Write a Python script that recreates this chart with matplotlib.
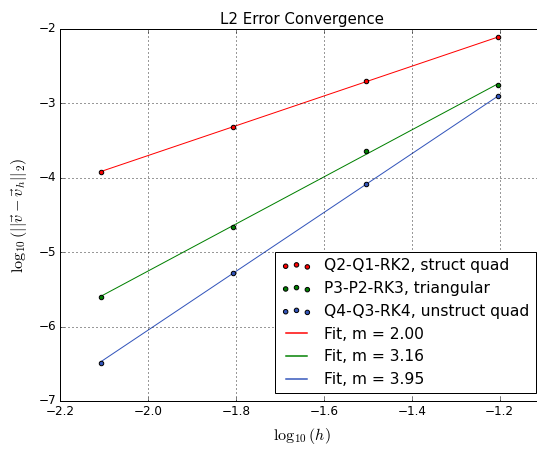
import numpy as np
import matplotlib
matplotlib.use('Agg')
import matplotlib.pyplot as plt

plt.style.use('classic')
plt.rcParams['figure.facecolor'] = 'white'
plt.rcParams['savefig.facecolor'] = 'white'

# mesh sizes h = 1/128 ... 1/16
logh = np.log10([1/128., 1/64., 1/32., 1/16.])

# log10 of the L2 error for each scheme
err_q2 = [-3.92, -3.317, -2.70, -2.11]
err_p3 = [-5.60, -4.66, -3.64, -2.757]
err_q4 = [-6.49, -5.28, -4.08, -2.896]

names = ['Q2-Q1-RK2, struct quad', 'P3-P2-RK3, triangular', 'Q4-Q3-RK4, unstruct quad']
slopes = [2.00, 3.16, 3.95]
colors = ['#ff0000', '#008000', '#3355bb']

fig = plt.figure(figsize=(537/72., 453/72.), dpi=72)
ax = fig.add_axes([0.1123, 0.1148, 0.9, 0.8212])

errs = [err_q2, err_p3, err_q4]
pts = []
for E, name, c in zip(errs, names, colors):
    p = ax.scatter(logh, E, color=c, s=20, edgecolors='k', zorder=3, label=name)
    pts.append(p)

# fitted lines through the mean point with the given rate
fits = []
for E, m, c in zip(errs, slopes, colors):
    b = np.mean(E) - m*np.mean(logh)
    l, = ax.plot(logh, m*logh + b, color=c, linewidth=1, label='Fit, m = %.2f' % m)
    fits.append(l)

ax.set_xlim(-2.2, -1.1)
ax.set_ylim(-7, -2)
ax.set_xticks([-2.2, -2.0, -1.8, -1.6, -1.4, -1.2])
ax.grid(True, color='k', linestyle=(0, (1, 3)), linewidth=0.8)
ax.set_title('L2 Error Convergence', fontsize=15)
ax.set_xlabel(r'$\log_{10}(h)$', fontsize=16, labelpad=8)
ax.set_ylabel(r'$\log_{10}(||\vec{v}-\vec{v}_h||_2)$', fontsize=16, labelpad=10)

hnd = pts + fits
leg = ax.legend(hnd, [h.get_label() for h in hnd], loc='lower right', fontsize=15.5)
for ln, c in zip(leg.get_lines(), colors):
    ln.set_color(c)
    ln.set_linewidth(1.5)

fig.savefig('out.png', dpi=72)
